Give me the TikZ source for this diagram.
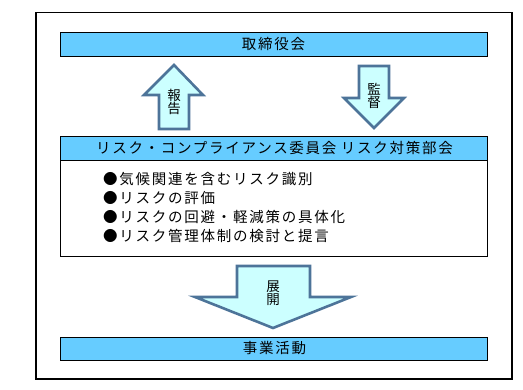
\documentclass[tikz,border=0pt]{standalone}
\usepackage{fontspec}
\setmainfont[LetterSpace=12]{Noto Sans CJK JP}
\definecolor{boxblue}{HTML}{66CCFF}
\definecolor{arrowfill}{HTML}{CCFFFF}
\definecolor{arrowline}{HTML}{4D7499}
\begin{document}
\begin{tikzpicture}[x=1pt,y=-1pt,
  bar/.style={draw=black,line width=1pt,fill=boxblue},
  blockarrow/.style={draw=arrowline,line width=2.6pt,fill=arrowfill,line join=miter},
  lbl/.style={font=\fontsize{14.5}{16}\selectfont,inner sep=0pt},
  vlbl/.style={font=\fontsize{13.5}{13.5}\selectfont,align=center,inner sep=0pt}]
\useasboundingbox (0,0) rectangle (523,389);
\fill[white] (0,0) rectangle (523,389);
% outer frame
\draw[line width=1.2pt] (36,12.5) rectangle (512,379);
% top box
\draw[bar] (60,32) rectangle (487,56);
\node[lbl] (board) at (273.5,44) {取締役会};
% up arrow
\draw[blockarrow] (159,129) -- (159,95) -- (144,95) -- (174,65) -- (203,95) -- (189,95) -- (189,129) -- cycle;
\node[vlbl] (report) at (174,102) {報\\告};
% down arrow
\draw[blockarrow] (359,66) -- (389,66) -- (389,98) -- (404,98) -- (374,128) -- (344,98) -- (359,98) -- cycle;
\node[vlbl] (audit) at (374,96) {監\\督};
% committee box
\draw[line width=1pt,fill=white] (60,136) rectangle (487,256);
\draw[bar] (60,136) rectangle (487,160);
\node[lbl] (committee) at (274.5,148) {リスク・コンプライアンス委員会\hspace{0.3em}リスク対策部会};
\node[font=\fontsize{14.5}{19}\selectfont,align=left,anchor=north west,inner sep=0pt] (items) at (103,172.5)
 {●気候関連を含むリスク識別\\●リスクの評価\\●リスクの回避・軽減策の具体化\\●リスク管理体制の検討と提言};
% big down arrow
\draw[blockarrow] (237,266) -- (310,266) -- (310,297) -- (351,297) -- (273,328) -- (195,297) -- (237,297) -- cycle;
\node[vlbl] (deploy) at (273,293) {展\\開};
% bottom box
\draw[bar] (60,337) rectangle (487,360);
\node[lbl] (business) at (274.5,348.5) {事業活動};
\end{tikzpicture}
\end{document}
